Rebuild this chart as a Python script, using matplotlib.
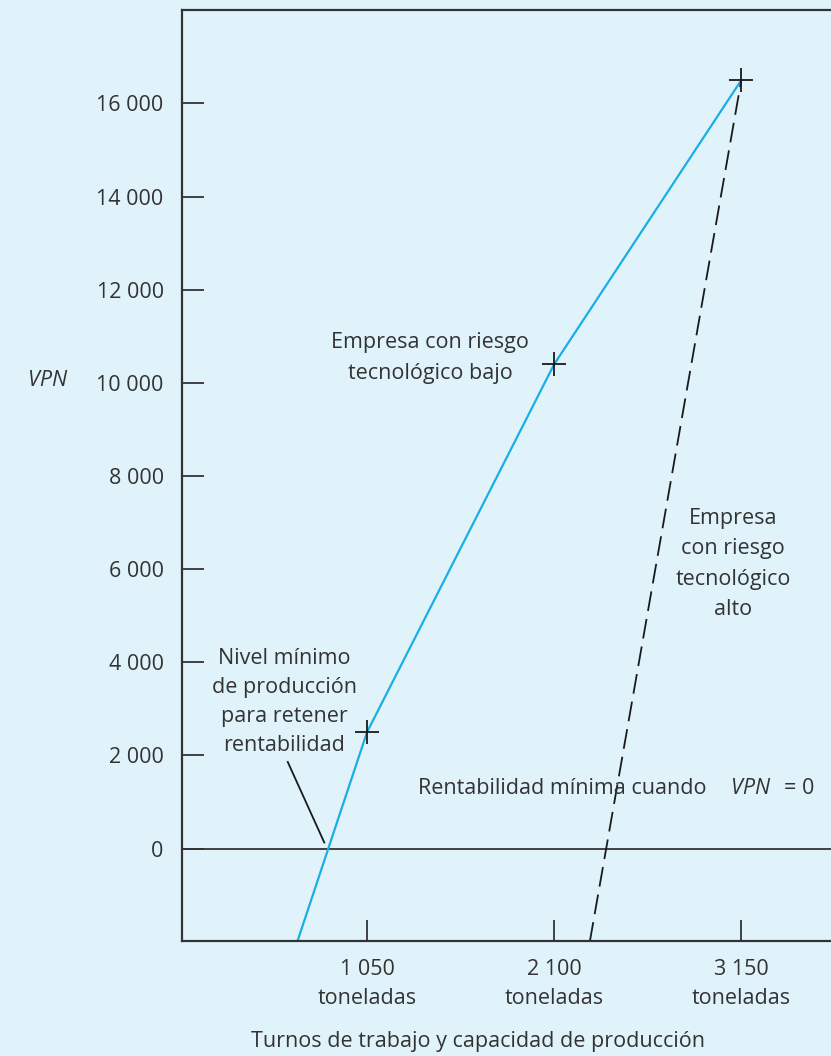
import matplotlib.pyplot as plt
from matplotlib.ticker import FixedLocator

plt.rcParams['font.family'] = ['Open Sans', 'DejaVu Sans']

BG = '#e0f3fb'
INK = '#333333'
BLUE = '#1aaee5'
FS = 15.5

# --- data ---
x_ticks = [1050, 2100, 3150]
x_labels = ['1 050\ntoneladas', '2 100\ntoneladas', '3 150\ntoneladas']
y_ticks = [0, 2000, 4000, 6000, 8000, 10000, 12000, 14000, 16000]
y_labels = ['0', '2 000', '4 000', '6 000', '8 000', '10 000', '12 000', '14 000', '16 000']

# empresa con riesgo tecnologico bajo (solid blue)
low_x = [650, 1050, 2100, 3150]
low_y = [-2100, 2500, 10400, 16500]
# empresa con riesgo tecnologico alto (dashed)
high_x = [2300, 3150]
high_y = [-2000, 16500]
# marked points
mark_x = [1050, 2100, 3150]
mark_y = [2500, 10400, 16500]

fig = plt.figure(figsize=(8.31, 10.56), dpi=100, facecolor=BG)
ax = fig.add_axes([181.7 / 831, 1 - 941 / 1056, 1 - 181.7 / 831 + 0.01, (941 - 10.3) / 1056])
ax.set_facecolor(BG)

ax.set_xlim(10, 3700)
ax.set_ylim(-1985, 18000)

ax.axhline(0, color=INK, lw=1.3, zorder=1)
ax.plot(low_x, low_y, color=BLUE, lw=1.6, zorder=2)
ax.plot(high_x, high_y, color='#1a1a1a', lw=1.3, dashes=(11, 4.5), zorder=2)
ax.plot(mark_x, mark_y, linestyle='none', marker='+', markersize=17,
        markeredgewidth=1.3, color='#1a1a1a', zorder=3)

# spines
for s in ['left', 'bottom', 'top']:
    ax.spines[s].set_color(INK)
    ax.spines[s].set_linewidth(1.6)
ax.spines['right'].set_visible(False)

ax.yaxis.set_major_locator(FixedLocator(y_ticks))
ax.set_yticklabels(y_labels)
ax.xaxis.set_major_locator(FixedLocator(x_ticks))
ax.set_xticklabels(x_labels, linespacing=1.5)
ax.tick_params(axis='y', direction='in', length=15.5, width=1.3, color=INK,
               pad=13, labelsize=FS, labelcolor=INK)
ax.tick_params(axis='x', direction='in', length=15, width=1.3, color=INK,
               pad=13, labelsize=FS, labelcolor=INK)

# annotations (positions in figure pixels from the reference)
def ftext(px, py, s, **kw):
    opts = dict(color=INK, fontsize=FS, ha='center', va='center', linespacing=1.5)
    opts.update(kw)
    fig.text(px / 831, 1 - py / 1056, s, **opts)

ftext(430, 358, 'Empresa con riesgo\ntecnológico bajo', linespacing=1.58)
ftext(733, 564, 'Empresa\ncon riesgo\ntecnológico\nalto', linespacing=1.58)
ftext(284, 702, 'Nivel mínimo\nde producción\npara retener\nrentabilidad', linespacing=1.48)
ftext(707, 789, 'Rentabilidad mínima cuando', ha='right')
ftext(731, 789, 'VPN', ha='left', style='italic')
ftext(814, 789, '= 0', ha='right')
ftext(48, 380, 'VPN', style='italic')
ftext(478, 1042, 'Turnos de trabajo y capacidad de producción')

ax.plot([605, 810], [1860, 130], color='#1a1a1a', lw=1.3, zorder=2)

fig.savefig('out.png', dpi=100, facecolor=BG)
